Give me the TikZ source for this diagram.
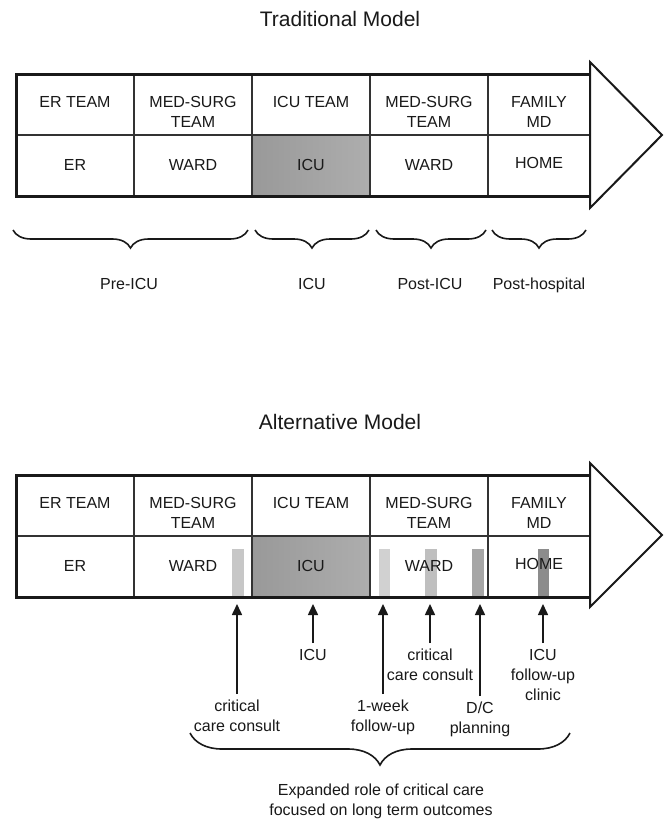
\documentclass[tikz,border=0pt]{standalone}
\usepackage{fontspec}
\setmainfont{Liberation Sans}
\usetikzlibrary{decorations.pathreplacing,arrows.meta}
\begin{document}
\begin{tikzpicture}[x=1pt,y=-1pt,
  txt/.style={text=black!90, font=\fontsize{16}{20}\selectfont, align=center, inner sep=0pt},
  lbl/.style={txt, anchor=north, outer sep=6pt},
  ttl/.style={text=black!90, font=\fontsize{21}{25}\selectfont, inner sep=0pt},
  outerbox/.style={line width=3pt, draw=black!90},
  innerline/.style={line width=1.1pt, draw=black!80},
  headtri/.style={line width=2pt, draw=black!90, fill=white, line join=miter},
  brc/.style={decorate, decoration={brace, mirror, amplitude=#1, aspect=0.5}, line width=1.6pt, draw=black!90},
  uparrow/.style={-{Triangle[length=11pt,width=10pt]}, line width=1.6pt, draw=black!90},
]
\fill[white] (0,0) rectangle (664,819);
\useasboundingbox (0,0) rectangle (664,819);

% ===== Traditional model =====
\node[ttl] (title1) at (340,19) {Traditional Model};
\shade[left color=black!40, right color=black!32] (252,135) rectangle (370,196);
\foreach \x in {134,252,370,488} \draw[innerline] (\x,74) -- (\x,196);
\draw[innerline] (16,135) -- (590,135);
\node[txt, anchor=north] (a1) at (75,96) {ER TEAM};
\node[txt, anchor=north] (a2) at (193,96) {MED-SURG\\TEAM};
\node[txt, anchor=north] (a3) at (311,96) {ICU TEAM};
\node[txt, anchor=north] (a4) at (429,96) {MED-SURG\\TEAM};
\node[txt, anchor=north] (a5) at (539,96) {FAMILY\\MD};
\node[txt] (b1) at (75,165) {ER};
\node[txt] (b2) at (193,165) {WARD};
\node[txt] (b3) at (311,165) {ICU};
\node[txt] (b4) at (429,165) {WARD};
\node[txt] (b5) at (539,163) {HOME};
\draw[outerbox] (590,74) -- (16,74) -- (16,196) -- (590,196);
\draw[headtri] (590,62) -- (662,135) -- (590,208) -- cycle;

\draw[brc=18] (13,230) -- (248,230);
\draw[brc=18] (255,230) -- (369,230);
\draw[brc=18] (376,230) -- (486,230);
\draw[brc=18] (492,230) -- (586,230);
\node[txt, anchor=base] (p1) at (129,289) {Pre-ICU};
\node[txt, anchor=base] (p2) at (312,289) {ICU};
\node[txt, anchor=base] (p3) at (430,289) {Post-ICU};
\node[txt, anchor=base] (p4) at (539,289) {Post-hospital};

% ===== Alternative model =====
\node[ttl] (title2) at (340,422) {Alternative Model};
\shade[left color=black!40, right color=black!32] (252,536) rectangle (370,597);
\fill[black!22] (232,549) rectangle (244,597);
\fill[black!18] (379,549) rectangle (390,597);
\fill[black!25] (425,549) rectangle (437,597);
\fill[black!35] (472,549) rectangle (484,597);
\fill[black!45] (538,549) rectangle (549,597);
\foreach \x in {134,252,370,488} \draw[innerline] (\x,475) -- (\x,597);
\draw[innerline] (16,536) -- (590,536);
\node[txt, anchor=north] (c1) at (75,497) {ER TEAM};
\node[txt, anchor=north] (c2) at (193,497) {MED-SURG\\TEAM};
\node[txt, anchor=north] (c3) at (311,497) {ICU TEAM};
\node[txt, anchor=north] (c4) at (429,497) {MED-SURG\\TEAM};
\node[txt, anchor=north] (c5) at (539,497) {FAMILY\\MD};
\node[txt] (d1) at (75,566) {ER};
\node[txt] (d2) at (193,566) {WARD};
\node[txt] (d3) at (311,566) {ICU};
\node[txt] (d4) at (429,566) {WARD};
\node[txt] (d5) at (539,564) {HOME};
\draw[outerbox] (590,475) -- (16,475) -- (16,597) -- (590,597);
\draw[headtri] (590,463) -- (662,535) -- (590,607) -- cycle;

% arrows and labels
\coordinate (t1) at (237,604);
\coordinate (t2) at (313,604);
\coordinate (t3) at (383,604);
\coordinate (t4) at (430,604);
\coordinate (t5) at (480,604);
\coordinate (t6) at (543,604);
\node[lbl] (l1) at (237,694) {critical\\care consult};
\node[lbl] (l2) at (313,643) {ICU};
\node[lbl] (l3) at (383,694) {1-week\\follow-up};
\node[lbl] (l4) at (430,643) {critical\\care consult};
\node[lbl] (l5) at (480,696) {D/C\\planning};
\node[lbl] (l6) at (543,643) {ICU\\follow-up\\clinic};
\draw[uparrow] (l1.north) -- (t1);
\draw[uparrow] (l2.north) -- (t2);
\draw[uparrow] (l3.north) -- (t3);
\draw[uparrow] (l4.north) -- (t4);
\draw[uparrow] (l5.north) -- (t5);
\draw[uparrow] (l6.north) -- (t6);

\draw[brc=32] (190,733) -- (570,733);
\node[txt, anchor=north] (exp) at (381,784) {Expanded role of critical care\\focused on long term outcomes};
\end{tikzpicture}
\end{document}
